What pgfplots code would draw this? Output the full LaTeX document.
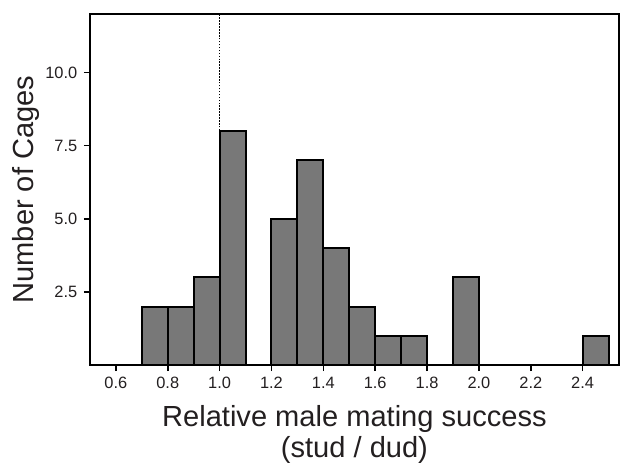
\documentclass[border=0pt]{standalone}
\usepackage{pgfplots}
\pgfplotsset{compat=1.18}
\usepackage{fontspec}
\setmainfont{Liberation Sans}
\definecolor{barfill}{RGB}{120,120,120}
\definecolor{txt}{RGB}{35,31,32}
\begin{document}
\begin{tikzpicture}
\begin{axis}[
  scale only axis,
  width=396.75pt, height=263.25pt,
  xmin=0.5, xmax=2.54, ymin=0, ymax=12,
  axis line style={line width=1.5pt, black},
  xtick={0.6,0.8,1.0,1.2,1.4,1.6,1.8,2.0,2.2,2.4},
  ytick={2.5,5,7.5,10},
  xtick pos=bottom, ytick pos=left,
  tick align=outside,
  major tick length=4.5pt,
  tick style={line width=1.2pt, black},
  /pgf/number format/fixed,
  /pgf/number format/fixed zerofill,
  /pgf/number format/precision=1,
  /pgf/number format/assume math mode=true,
  ticklabel style={font=\fontsize{12.3pt}{14pt}\selectfont, text=txt},
  xticklabel style={yshift=-1pt},
  yticklabel style={xshift=-1.5pt},
  xlabel={Relative male mating success\\(stud / dud)},
  ylabel={Number of Cages},
  xlabel style={at={(rel axis cs:0.5,-0.113)}, anchor=north, inner sep=0pt, align=center,
    font=\fontsize{21.8pt}{23.5pt}\selectfont, text=txt},
  ylabel style={at={(rel axis cs:-0.121,0.5)}, anchor=center,
    font=\fontsize{21.8pt}{24pt}\selectfont, text=txt},
  clip=false,
]
\addplot[black, line width=1.1pt, dash pattern=on 1.1pt off 1.1pt] coordinates {(1.0,0) (1.0,12)};
\addplot[ybar, bar width=0.1, bar shift=0pt, fill=barfill, draw=black, line width=1.5pt] coordinates {
(0.75,2) (0.85,2) (0.95,3) (1.05,8) (1.25,5) (1.35,7) (1.45,4) (1.55,2) (1.65,1) (1.75,1) (1.95,3) (2.45,1)
};
\coordinate (bl) at (rel axis cs:-0.170,-0.279);
\coordinate (tr) at (rel axis cs:1.002,1.040);
\end{axis}
\pgfresetboundingbox
\path[use as bounding box] (bl) rectangle (tr);
\end{tikzpicture}
\end{document}
